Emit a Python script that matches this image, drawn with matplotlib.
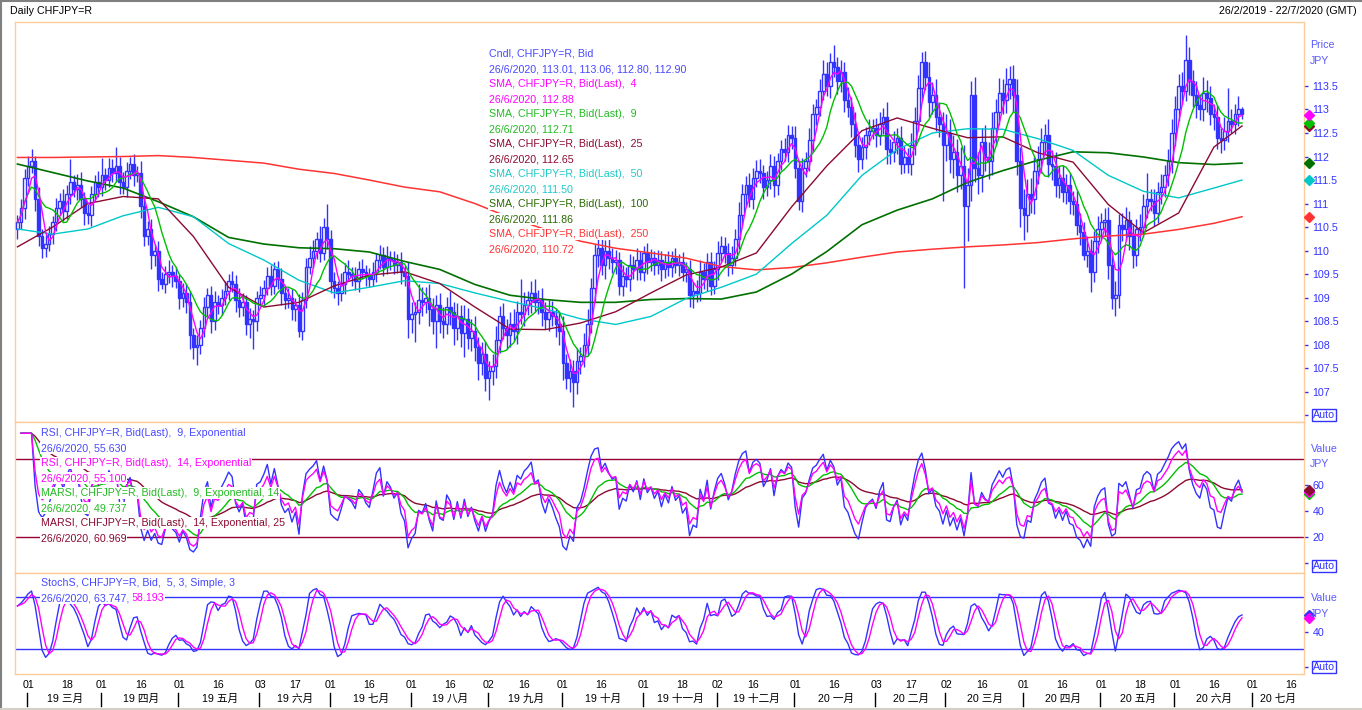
import matplotlib.pyplot as plt
from matplotlib.lines import Line2D
from matplotlib.transforms import blended_transform_factory
import numpy as np
import pandas as pd

plt.rcParams['font.family'] = ['Liberation Sans', 'Noto Sans CJK SC']
plt.rcParams['font.size'] = 7.7

# ---------------- data ----------------
start_date = '2019-02-26'
end_date = '2020-07-22'
first_open = 110.45

# daily closes, 26/2/2019 .. 26/6/2020
close = [
    110.60, 110.90, 111.55, 111.80, 111.90, 111.10, 110.30, 110.05, 110.15, 110.35,
    110.60, 110.90, 111.05, 110.85, 111.20, 111.45, 111.30, 111.40, 111.10, 110.80,
    110.75, 111.20, 111.45, 111.35, 111.60, 111.50, 111.75, 111.65, 111.80, 111.45,
    111.35, 111.70, 111.85, 111.60, 111.65, 110.95, 110.30, 110.45, 109.90, 110.00,
    109.40, 109.30, 109.50, 109.55, 109.45, 109.35, 109.00, 109.10, 108.90, 108.20,
    107.95, 108.00, 108.35, 108.80, 109.05, 108.50, 108.90, 108.85, 109.00, 109.15,
    109.35, 109.30, 108.95, 108.80, 108.90, 108.45, 108.55, 108.50, 109.00, 109.05,
    109.20, 109.45, 109.25, 109.60, 109.40, 109.10, 108.95, 109.00, 108.75, 108.85,
    108.30, 108.95, 109.65, 109.85, 110.00, 110.25, 109.95, 110.50, 110.25, 109.35,
    109.20, 109.10, 109.30, 109.55, 109.50, 109.45, 109.35, 109.60, 109.55, 109.45,
    109.40, 109.55, 109.80, 109.90, 109.65, 109.85, 109.80, 109.70, 109.75, 109.55,
    109.45, 108.55, 108.65, 108.70, 108.95, 108.90, 109.00, 108.75, 108.50, 108.85,
    108.50, 108.45, 108.80, 108.70, 108.35, 108.60, 108.25, 108.55, 108.15, 108.30,
    107.95, 107.60, 107.80, 107.30, 107.45, 107.55, 108.10, 108.60, 108.35, 108.20,
    108.45, 108.30, 108.70, 108.65, 108.85, 108.95, 109.10, 108.90, 108.95, 108.70,
    108.55, 108.70, 108.60, 108.45, 108.30, 107.60, 107.30, 107.45, 107.20, 107.65,
    107.75, 108.00, 108.45, 109.20, 109.90, 110.05, 109.70, 110.00, 109.85, 109.75,
    109.80, 109.25, 109.45, 109.40, 109.70, 109.60, 109.80, 109.55, 109.95, 109.75,
    109.85, 109.70, 109.80, 109.60, 109.75, 109.65, 109.85, 109.70, 109.75, 109.55,
    109.60, 109.05, 109.15, 109.10, 109.55, 109.40, 109.75, 109.25, 109.60, 109.95,
    110.10, 109.95, 109.70, 109.85, 110.25, 110.75, 111.20, 111.40, 111.10, 111.55,
    111.70, 111.65, 111.35, 111.50, 111.80, 111.40, 111.90, 112.15, 112.10, 112.45,
    112.40, 111.75, 111.05, 111.75, 111.90, 112.35, 112.90, 113.05, 113.40, 113.75,
    113.50, 114.00, 113.90, 113.60, 113.80, 113.20, 113.05, 112.70, 112.25, 111.95,
    112.20, 112.45, 112.55, 112.60, 112.45, 112.70, 112.85, 112.15, 112.10, 112.30,
    112.40, 111.85, 112.00, 111.85, 112.25, 112.75, 113.45, 114.00, 113.70, 113.15,
    113.30, 112.85, 112.70, 112.25, 112.50, 111.95, 112.10, 111.60, 111.80, 110.95,
    111.40, 113.30, 111.75, 111.60, 112.30, 112.00, 111.90, 112.60, 112.95, 113.35,
    113.20, 113.55, 113.65, 113.30, 111.90, 110.90, 110.75, 111.20, 111.10, 111.70,
    111.95, 112.30, 112.45, 111.85, 111.80, 111.40, 111.55, 111.25, 111.40, 111.05,
    111.00, 110.55, 110.40, 109.90, 110.00, 109.55, 110.20, 110.45, 110.60, 110.65,
    109.70, 109.00, 109.05, 110.55, 110.45, 110.65, 110.30, 109.90, 110.45, 110.50,
    110.95, 111.10, 111.05, 110.80, 111.25, 111.35, 111.60, 111.90, 112.50, 113.00,
    113.50, 113.40, 114.05, 113.60, 113.30, 113.10, 113.00, 113.35, 113.25, 112.90,
    112.85, 112.40, 112.35, 112.55, 112.75, 112.70, 112.90, 113.01, 112.90,
]

# wick above / below the candle body, in 0.01 JPY
upper_wick = [
    15, 20, 18, 22, 26, 12, 25, 15, 20, 18,
    14, 22, 18, 25, 20, 50, 15, 22, 28, 15,
    20, 18, 15, 25, 37, 15, 22, 20, 40, 18,
    22, 18, 15, 20, 14, 25, 20, 18, 22, 15,
    20, 15, 18, 25, 14, 20, 15, 22, 18, 25,
    15, 20, 18, 22, 15, 20, 25, 15, 18, 20,
    15, 22, 18, 25, 20, 15, 22, 18, 15, 20,
    18, 20, 25, 15, 18, 22, 15, 20, 18, 15,
    22, 18, 20, 25, 23, 15, 28, 20, 49, 18,
    20, 15, 22, 18, 25, 15, 20, 18, 22, 15,
    18, 20, 15, 22, 18, 25, 15, 20, 18, 22,
    15, 30, 25, 20, 35, 28, 22, 30, 25, 20,
    25, 30, 22, 35, 20, 28, 25, 30, 22, 25,
    30, 22, 25, 28, 20, 25, 30, 22, 28, 20,
    25, 30, 22, 70, 28, 20, 25, 30, 22, 25,
    20, 25, 22, 18, 25, 30, 20, 25, 22, 28,
    20, 25, 30, 22, 25, 20, 28, 22, 25, 20,
    22, 18, 25, 20, 22, 18, 25, 20, 15, 22,
    18, 15, 22, 20, 18, 25, 15, 20, 18, 22,
    15, 20, 18, 22, 25, 18, 20, 22, 18, 25,
    20, 18, 22, 25, 20, 28, 22, 18, 25, 20,
    22, 25, 18, 20, 25, 22, 18, 20, 25, 22,
    20, 25, 18, 22, 20, 25, 22, 18, 25, 30,
    25, 20, 37, 22, 25, 20, 28, 22, 25, 20,
    22, 18, 25, 20, 22, 25, 18, 30, 22, 25,
    20, 25, 22, 18, 25, 30, 28, 22, 25, 30,
    28, 35, 30, 25, 40, 30, 35, 28, 40, 45,
    35, 30, 40, 35, 30, 38, 30, 35, 28, 32,
    30, 33, 28, 30, 35, 30, 40, 32, 35, 30,
    28, 30, 25, 35, 28, 30, 25, 28, 22, 25,
    22, 28, 25, 20, 30, 25, 22, 28, 20, 25,
    28, 25, 30, 22, 25, 28, 20, 25, 22, 28,
    25, 55, 22, 25, 20, 28, 22, 25, 30, 28,
    25, 30, 53, 28, 25, 30, 22, 35, 28, 25,
    22, 25, 20, 28, 70, 25, 22, 28, 5,
]
lower_wick = [
    20, 15, 22, 18, 15, 25, 20, 21, 18, 15,
    20, 18, 15, 22, 18, 20, 15, 22, 18, 25,
    18, 22, 15, 20, 18, 22, 15, 20, 18, 25,
    15, 20, 18, 22, 15, 25, 20, 18, 30, 22,
    25, 12, 20, 18, 22, 15, 25, 20, 22, 30,
    25, 38, 20, 18, 22, 25, 18, 20, 22, 15,
    20, 18, 25, 22, 18, 25, 30, 60, 20, 18,
    22, 15, 20, 18, 22, 25, 20, 18, 22, 25,
    14, 20, 18, 15, 22, 18, 20, 15, 22, 25,
    20, 25, 18, 22, 15, 20, 18, 22, 15, 20,
    18, 15, 22, 20, 18, 15, 22, 20, 18, 25,
    20, 40, 30, 60, 25, 30, 22, 35, 28, 57,
    25, 30, 22, 28, 35, 25, 30, 51, 25, 28,
    30, 35, 25, 28, 47, 30, 25, 28, 22, 30,
    25, 22, 28, 20, 25, 22, 28, 20, 25, 30,
    22, 25, 20, 28, 30, 35, 25, 30, 53, 25,
    28, 22, 25, 20, 28, 25, 22, 30, 25, 22,
    25, 20, 22, 18, 25, 20, 22, 18, 20, 25,
    18, 22, 20, 25, 18, 20, 22, 18, 25, 20,
    22, 25, 27, 20, 18, 22, 25, 20, 18, 22,
    18, 22, 25, 20, 18, 22, 20, 25, 18, 22,
    20, 22, 25, 18, 20, 25, 22, 18, 20, 22,
    25, 20, 19, 22, 18, 20, 25, 22, 18, 20,
    22, 25, 20, 28, 22, 25, 20, 28, 25, 28,
    22, 25, 20, 18, 25, 20, 22, 30, 25, 22,
    25, 22, 20, 20, 25, 22, 20, 25, 28, 30,
    25, 30, 28, 120, 35, 30, 40, 35, 30, 175,
    75, 35, 30, 40, 35, 30, 38, 30, 35, 28,
    30, 28, 32, 35, 30, 40, 53, 35, 30, 32,
    28, 30, 25, 28, 30, 25, 28, 22, 25, 28,
    25, 22, 28, 10, 25, 43, 22, 25, 20, 28,
    30, 25, 40, 28, 25, 22, 28, 27, 22, 25,
    22, 25, 20, 28, 22, 25, 20, 22, 25, 28,
    25, 28, 22, 30, 25, 28, 22, 25, 30, 22,
    28, 25, 28, 22, 25, 20, 22, 25, 10,
]

# slower moving averages, read every 10 bars
sma_idx = list(range(0, 341, 10)) + [348]
sma25 = [110.08, 110.50, 111.00, 111.15, 111.10, 110.30, 109.22, 108.80, 108.90, 109.25,
         109.48, 109.55, 109.30, 108.80, 108.33, 108.32, 108.46, 108.70, 109.10, 109.48,
         109.65, 109.95, 110.93, 111.80, 112.55, 112.82, 112.60, 112.40, 112.42, 112.08,
         111.88, 110.98, 110.38, 110.80, 112.20, 112.65]
sma50 = [110.46, 110.35, 110.46, 110.74, 110.92, 110.72, 110.15, 109.80, 109.37, 109.10,
         109.22, 109.36, 109.30, 109.10, 108.92, 108.76, 108.55, 108.43, 108.60, 108.98,
         109.22, 109.50, 110.15, 110.75, 111.60, 112.15, 112.50, 112.59, 112.58, 112.38,
         112.13, 111.60, 111.26, 111.12, 111.33, 111.50]
sma100 = [111.84, 111.66, 111.48, 111.33, 111.04, 110.72, 110.28, 110.14, 110.06, 110.04,
          109.97, 109.77, 109.60, 109.28, 109.05, 108.96, 108.90, 108.90, 108.96, 108.98,
          108.97, 109.12, 109.50, 109.98, 110.55, 110.86, 111.10, 111.45, 111.70, 111.92,
          112.10, 112.08, 111.99, 111.87, 111.83, 111.86]
sma250 = [111.98, 111.98, 111.99, 112.00, 112.02, 111.98, 111.92, 111.86, 111.73, 111.64,
          111.50, 111.35, 111.25, 111.00, 110.70, 110.45, 110.20, 110.05, 109.95, 109.84,
          109.66, 109.59, 109.64, 109.74, 109.86, 109.97, 110.03, 110.08, 110.12, 110.17,
          110.25, 110.31, 110.35, 110.45, 110.58, 110.72]

month_names = ['一月', '二月', '三月', '四月', '五月', '六月',
               '七月', '八月', '九月', '十月', '十一月', '十二月']

# legend texts as shown on the chart
price_legend = [
    ('Cndl, CHFJPY=R, Bid', '#4848ff'),
    ('26/6/2020, 113.01, 113.06, 112.80, 112.90', '#4848ff'),
    ('SMA, CHFJPY=R, Bid(Last),  4', '#ff00ff'),
    ('26/6/2020, 112.88', '#ff00ff'),
    ('SMA, CHFJPY=R, Bid(Last),  9', '#22bb22'),
    ('26/6/2020, 112.71', '#22bb22'),
    ('SMA, CHFJPY=R, Bid(Last),  25', '#8b0a30'),
    ('26/6/2020, 112.65', '#8b0a30'),
    ('SMA, CHFJPY=R, Bid(Last),  50', '#20c8c8'),
    ('26/6/2020, 111.50', '#20c8c8'),
    ('SMA, CHFJPY=R, Bid(Last),  100', '#2a6a00'),
    ('26/6/2020, 111.86', '#2a6a00'),
    ('SMA, CHFJPY=R, Bid(Last),  250', '#ff3333'),
    ('26/6/2020, 110.72', '#ff3333'),
]
rsi_legend = [
    ('RSI, CHFJPY=R, Bid(Last),  9, Exponential', '#4848ff'),
    ('26/6/2020, 55.630', '#4848ff'),
    ('RSI, CHFJPY=R, Bid(Last),  14, Exponential', '#ff00ff'),
    ('26/6/2020, 55.100', '#ff00ff'),
    ('MARSI, CHFJPY=R, Bid(Last),  9, Exponential, 14', '#22bb22'),
    ('26/6/2020, 49.737', '#22bb22'),
    ('MARSI, CHFJPY=R, Bid(Last),  14, Exponential, 25', '#8b0a30'),
    ('26/6/2020, 60.969', '#8b0a30'),
]

# ---------------- derived series ----------------
BLUE = '#3333ff'
MAG = '#ff00ff'
GREEN = '#00c000'
MAROON = '#8b0a30'
CYAN = '#00c8c8'
DKGREEN = '#007000'
RED = '#ff3333'
ORANGE = '#ffcc99'

W, H = 1362, 710


def fx(px):
    return px / W


def fy(py):
    return 1 - py / H


dates = pd.bdate_range(start_date, end_date)
c = np.array(close)
n = len(c)
xs = np.arange(n)
o = np.r_[first_open, c[:-1]]
hi = np.maximum(o, c) + np.array(upper_wick) / 100
lo = np.minimum(o, c) - np.array(lower_wick) / 100

cs = pd.Series(c)
sma4 = cs.rolling(4, min_periods=1).mean()
sma9 = cs.rolling(9, min_periods=1).mean()


def rsi(s, period):
    d = s.diff()
    g = d.clip(lower=0).ewm(span=period, adjust=False).mean()
    l = (-d).clip(lower=0).ewm(span=period, adjust=False).mean()
    return 100 * g / (g + l)


rsi9 = rsi(cs, 9)
rsi14 = rsi(cs, 14)
marsi9 = rsi9.ewm(span=14, adjust=False).mean()
marsi14 = rsi14.ewm(span=25, adjust=False).mean()

hh = pd.Series(hi).rolling(5, min_periods=1).max()
ll = pd.Series(lo).rolling(5, min_periods=1).min()
fast_k = 100 * (cs - ll) / (hh - ll)
slow_k = fast_k.rolling(3, min_periods=1).mean()
slow_d = slow_k.rolling(3, min_periods=1).mean()

XLIM = (-0.7, 365.7)

# ---------------- figure ----------------
fig = plt.figure(figsize=(W / 100, H / 100), dpi=100)
left, right = 15, 1304.3
ax1 = fig.add_axes([fx(left), fy(422), fx(right) - fx(left), fy(22) - fy(422)])
ax2 = fig.add_axes([fx(left), fy(573.3), fx(right) - fx(left), fy(422) - fy(573.3)])
ax3 = fig.add_axes([fx(left), fy(674), fx(right) - fx(left), fy(573.3) - fy(674)])

for ax in (ax1, ax2, ax3):
    ax.set_xlim(XLIM)
    for sp in ax.spines.values():
        sp.set_color(ORANGE)
        sp.set_linewidth(1)
    ax.yaxis.tick_right()
    ax.tick_params(axis='y', direction='out', length=3, width=1, color=BLUE,
                   labelcolor=BLUE, pad=3, labelsize=7.7)
    ax.tick_params(axis='x', bottom=False, labelbottom=False)

# price panel: candles
up = c >= o
body = np.maximum(np.abs(c - o), 0.015)
ax1.vlines(xs, lo, hi, color=BLUE, lw=1, zorder=2)
ax1.bar(xs[up], body[up], bottom=o[up], width=0.75, facecolor='white',
        edgecolor=BLUE, lw=1.0, zorder=3)
ax1.bar(xs[~up], body[~up], bottom=c[~up], width=0.75, facecolor=BLUE,
        edgecolor=BLUE, lw=1.0, zorder=3)

ax1.plot(sma_idx, sma250, color=RED, lw=1.1, zorder=4)
ax1.plot(sma_idx, sma100, color=DKGREEN, lw=1.2, zorder=4)
ax1.plot(sma_idx, sma50, color=CYAN, lw=1.0, zorder=4)
ax1.plot(sma_idx, sma25, color=MAROON, lw=1.0, zorder=4)
ax1.plot(xs, sma9, color=GREEN, lw=1.0, zorder=4)
ax1.plot(xs, sma4, color=MAG, lw=1.0, zorder=4)

ax1.set_ylim(106.356, 114.86)
pticks = np.arange(106.5, 113.51, 0.5)
ax1.set_yticks(pticks)
ax1.set_yticklabels([''] + [f'{v:g}' for v in pticks[1:]])

mx = XLIM[1] + 1.2
for val, col in [(sma250[-1], RED), (sma50[-1], CYAN), (sma100[-1], DKGREEN),
                 (sma25[-1], MAROON), (sma9.iloc[-1], GREEN), (sma4.iloc[-1], MAG)]:
    ax1.plot(mx, val, marker='D', ms=5, color=col, clip_on=False, zorder=6)

# RSI panel
ax2.axhline(80, color='#990033', lw=1, zorder=1)
ax2.axhline(20, color='#990033', lw=1, zorder=1)
ax2.plot(xs, marsi14, color=MAROON, lw=1, zorder=3)
ax2.plot(xs, marsi9, color=GREEN, lw=1, zorder=3)
ax2.plot(xs, rsi9, color=BLUE, lw=1, zorder=4)
ax2.plot(xs, rsi14, color=MAG, lw=1, zorder=5)
ax2.set_ylim(-7.7, 108.7)
ax2.set_yticks([0, 20, 40, 60])
ax2.set_yticklabels(['', '20', '40', '60'])
for val, col in [(rsi9.iloc[-1], BLUE), (marsi9.iloc[-1], GREEN),
                 (rsi14.iloc[-1], MAG), (marsi14.iloc[-1], MAROON)]:
    ax2.plot(mx, val, marker='D', ms=5, color=col, clip_on=False, zorder=6)

# Stochastic panel
ax3.axhline(80, color=BLUE, lw=1, zorder=1)
ax3.axhline(20, color=BLUE, lw=1, zorder=1)
ax3.plot(xs, slow_k, color=BLUE, lw=1, zorder=3)
ax3.plot(xs, slow_d, color=MAG, lw=1, zorder=4)
ax3.set_ylim(-8.5, 107.7)
ax3.set_yticks([0, 40])
ax3.set_yticklabels(['', '40'])
for val, col in [(slow_k.iloc[-1], BLUE), (slow_d.iloc[-1], MAG)]:
    ax3.plot(mx, val, marker='D', ms=5, color=col, clip_on=False, zorder=6)

# legends
box = dict(boxstyle='square,pad=0.08', facecolor='white', edgecolor='none')
for k, (txt, col) in enumerate(price_legend):
    fig.text(fx(489), fy(54 + 15 * k), txt, color=col, va='center', bbox=box)
for k, (txt, col) in enumerate(rsi_legend):
    fig.text(fx(40.7), fy(433.3 + 15 * k), txt, color=col, va='center', bbox=box)
fig.text(fx(40.7), fy(583.3), 'StochS, CHFJPY=R, Bid,  5, 3, Simple, 3',
         color='#4848ff', va='center', bbox=box)
t1 = fig.text(fx(40.7), fy(598.3), '26/6/2020, 63.747, ', color='#4848ff',
              va='center', bbox=box)
ax3.annotate('58.193', xy=(1, 0.5), xycoords=t1, va='center', ha='left',
             color=MAG, bbox=box, annotation_clip=False)

# right side unit labels and Auto boxes
unit_col = '#5a5aff'
fig.text(fx(1310), fy(45), 'Price', color=unit_col, va='center')
fig.text(fx(1310), fy(61), 'JPY', color=unit_col, va='center')
fig.text(fx(1311), fy(448.5), 'Value', color=unit_col, va='center')
fig.text(fx(1310), fy(464), 'JPY', color=unit_col, va='center')
fig.text(fx(1311), fy(598), 'Value', color=unit_col, va='center')
fig.text(fx(1310), fy(614), 'JPY', color=unit_col, va='center')
abox = dict(boxstyle='square,pad=0.12', facecolor='white', edgecolor=BLUE, lw=1)
for yy in (415, 566, 667):
    fig.text(fx(1313), fy(yy), 'Auto', color=BLUE, va='center', bbox=abox)

# titles
fig.text(fx(10), fy(10.7), 'Daily CHFJPY=R', color='black', va='center')
fig.text(fx(1357), fy(10.7), '26/2/2019 - 22/7/2020 (GMT)', color='black',
         va='center', ha='right')

# date axis
blend = blended_transform_factory(ax3.transData, fig.transFigure)
months = sorted(set(zip(dates.year, dates.month)))
starts = []
for (yr, mo) in months:
    sel = np.where((dates.year == yr) & (dates.month == mo))[0]
    if dates[sel[0]].day > 3:
        continue
    first = sel[0]
    mid = sel[dates[sel].day >= 16][0]
    starts.append((first, yr, mo))
    for idx in (first, mid):
        ax3.text(idx, fy(685), f'{dates[idx].day:02d}', transform=blend,
                 ha='center', va='center', color='black')
for k, (first, yr, mo) in enumerate(starts):
    end = starts[k + 1][0] if k + 1 < len(starts) else XLIM[1]
    ax3.text((first + end) / 2, fy(699), f'{yr % 100} {month_names[mo - 1]}',
             transform=blend, ha='center', va='center', color='black')
    ax3.plot([first - 0.3, first - 0.3], [fy(692.5), fy(706)], transform=blend,
             color='black', lw=1, clip_on=False)

# window border
fig.add_artist(Line2D([0, 1], [fy(1), fy(1)], color='#808080', lw=1.5,
                      transform=fig.transFigure))
fig.add_artist(Line2D([fx(1), fx(1)], [0, 1], color='#808080', lw=1.5,
                      transform=fig.transFigure))
fig.add_artist(Line2D([0, 1], [fy(709), fy(709)], color='#d4d0c8', lw=1.5,
                      transform=fig.transFigure))

fig.savefig('out.png', dpi=100)
